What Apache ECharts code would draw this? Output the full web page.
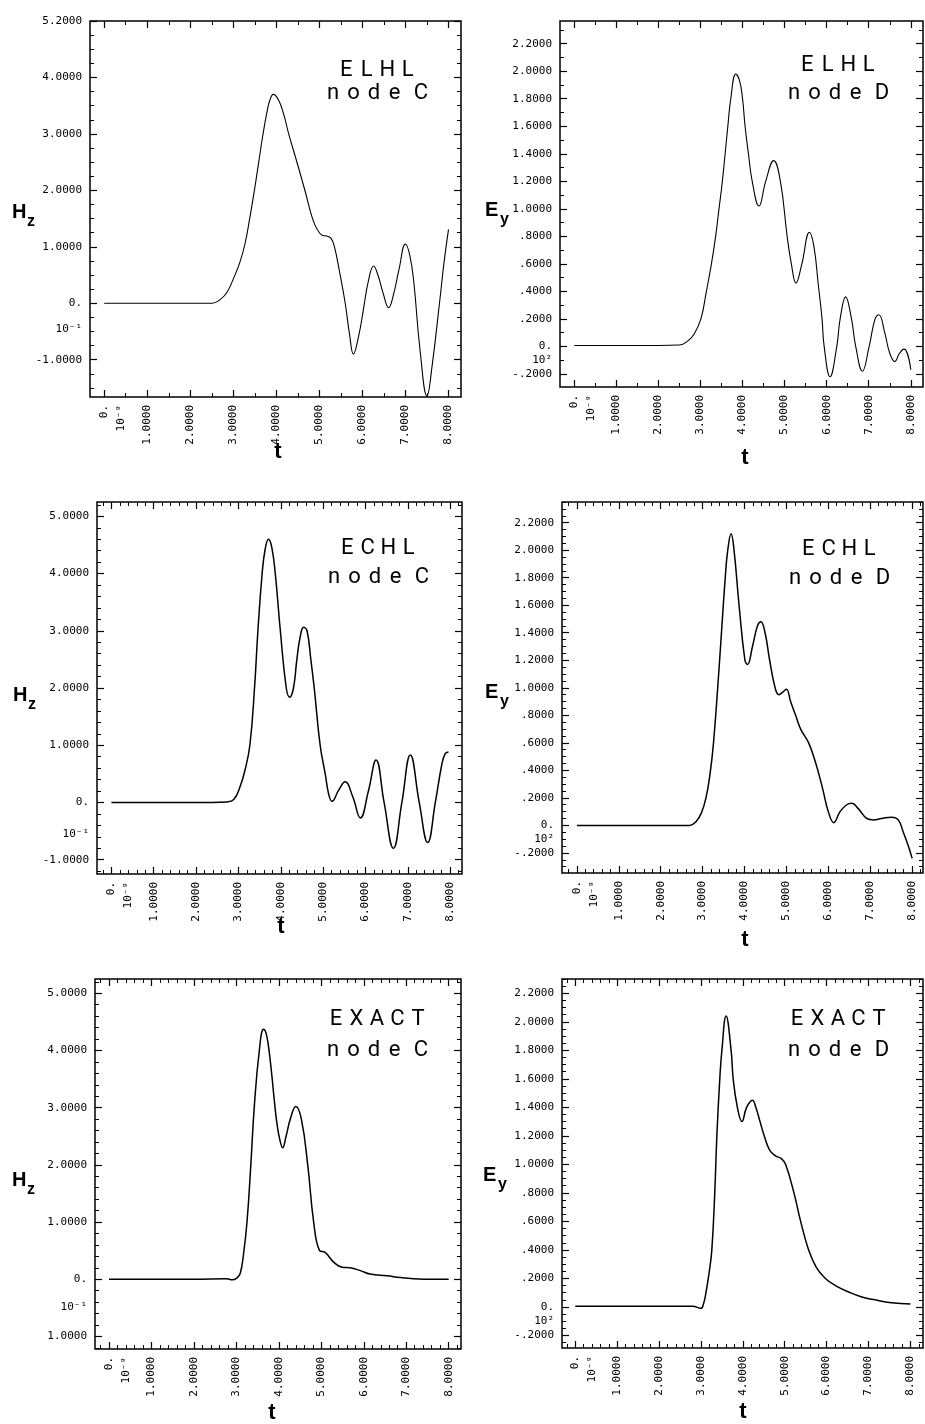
<!DOCTYPE html>
<html><head><meta charset="utf-8">
<script src="https://cdn.jsdelivr.net/npm/echarts@6/dist/echarts.min.js"></script>
<style>html,body{margin:0;padding:0;background:#fff}#c{width:925px;height:1424px}</style>
</head><body><div id="c"></div><script>
// ---------------- data ----------------
const elhlC_t = [0,1,2,2.5,2.7,2.85,3.01,3.15,3.27,3.38,3.49,3.59,3.68,3.78,3.85,3.93,4.05,4.17,4.28,4.47,4.67,4.80,4.90,5.0,5.08,5.17,5.27,5.35,5.47,5.60,5.70,5.79,5.92,6.02,6.14,6.26,6.36,6.48,6.61,6.72,6.85,7.0,7.10,7.19,7.34,7.50,7.62,7.79,7.90,8.0];
const elhlC_v = [0,0,0,0,0.07,0.19,0.45,0.72,1.05,1.5,2.0,2.5,2.95,3.38,3.60,3.70,3.60,3.35,3.02,2.52,1.98,1.6,1.38,1.25,1.20,1.19,1.15,1.0,0.55,0.0,-0.55,-0.90,-0.55,-0.12,0.40,0.66,0.50,0.18,-0.08,0.15,0.60,1.05,0.85,0.40,-0.84,-1.64,-1.10,0.0,0.75,1.31];

const elhlD_t = [0,1,2,2.5,2.7,2.85,3.01,3.14,3.26,3.36,3.44,3.52,3.65,3.72,3.84,3.93,4.0,4.06,4.14,4.23,4.39,4.55,4.74,4.90,5.06,5.16,5.27,5.41,5.59,5.70,5.80,5.89,5.94,6.08,6.24,6.32,6.45,6.59,6.69,6.85,7.01,7.15,7.24,7.38,7.50,7.62,7.73,7.84,8.0];
const elhlD_v = [0.007,0.007,0.007,0.01,0.04,0.09,0.2,0.4,0.6,0.8,1.0,1.2,1.6,1.8,1.98,1.93,1.8,1.6,1.4,1.2,1.02,1.2,1.35,1.2,0.8,0.6,0.46,0.6,0.83,0.72,0.45,0.2,0.0,-0.22,0.0,0.2,0.36,0.2,0.0,-0.18,0.0,0.2,0.23,0.1,-0.05,-0.11,-0.05,-0.02,-0.17];

const echlC_t = [0,1,2,2.73,2.89,3.04,3.15,3.27,3.38,3.46,3.56,3.63,3.71,3.79,3.87,3.99,4.13,4.21,4.30,4.38,4.46,4.54,4.62,4.71,4.79,4.93,5.05,5.13,5.21,5.37,5.52,5.70,5.88,6.07,6.25,6.44,6.66,6.86,7.06,7.27,7.47,7.65,7.80,7.88,7.96];
const echlC_v = [0,0,0,0.01,0.05,0.28,0.55,1.0,2.0,3.0,4.0,4.42,4.60,4.45,4.0,3.0,2.0,1.84,2.0,2.5,2.9,3.06,3.0,2.5,2.0,1.0,0.5,0.15,0.02,0.22,0.36,0.1,-0.27,0.2,0.74,0.0,-0.80,0.0,0.83,0.0,-0.70,0.0,0.65,0.85,0.88];

const echlD_t = [0,1,2,2.69,2.85,2.97,3.08,3.18,3.26,3.36,3.45,3.54,3.60,3.68,3.75,3.87,4.01,4.07,4.19,4.31,4.39,4.49,4.60,4.73,4.82,4.92,5.0,5.10,5.22,5.34,5.53,5.65,5.75,5.87,6.0,6.13,6.28,6.44,6.56,6.72,6.92,7.08,7.27,7.51,7.67,7.79,7.91,8.0];
const echlD_v = [0,0,0,0,0.03,0.09,0.2,0.38,0.6,1.0,1.4,1.8,2.0,2.12,2.0,1.6,1.2,1.17,1.3,1.45,1.48,1.4,1.2,1.0,0.95,0.97,0.99,0.9,0.8,0.7,0.6,0.5,0.4,0.26,0.1,0.02,0.1,0.15,0.16,0.12,0.05,0.04,0.05,0.06,0.04,-0.05,-0.15,-0.24];

const exactC_t = [0,1,2,2.77,2.9,3.01,3.09,3.17,3.25,3.34,3.42,3.54,3.64,3.70,3.76,3.83,3.89,3.95,4.02,4.09,4.17,4.27,4.40,4.53,4.68,4.82,4.96,5.09,5.29,5.49,5.68,5.92,6.15,6.55,6.86,7.17,7.65,8.0];
const exactC_v = [0,0,0,0.01,-0.01,0.02,0.1,0.45,1.0,2.0,3.0,4.0,4.37,4.3,4.05,3.6,3.15,2.75,2.45,2.30,2.5,2.8,3.02,2.8,2.0,1.0,0.5,0.47,0.3,0.21,0.2,0.15,0.09,0.06,0.03,0.01,0,0];

const exactD_t = [0,1,2,2.8,3.0,3.06,3.12,3.2,3.26,3.33,3.38,3.45,3.50,3.60,3.72,3.77,3.87,3.98,4.09,4.23,4.31,4.41,4.51,4.64,4.78,4.92,5.02,5.22,5.38,5.57,5.75,5.97,6.21,6.56,6.84,7.15,7.55,8.0];
const exactD_v = [0.005,0.005,0.005,0.005,-0.01,0.02,0.1,0.25,0.4,0.8,1.2,1.6,1.8,2.04,1.8,1.6,1.4,1.30,1.4,1.45,1.4,1.3,1.2,1.1,1.06,1.04,1.0,0.8,0.6,0.4,0.28,0.2,0.15,0.1,0.07,0.05,0.03,0.02];

// tick labels
const xTickValues = [0,1,2,3,4,5,6,7,8];
const xTickLabels = ['0.','1.0000','2.0000','3.0000','4.0000','5.0000','6.0000','7.0000','8.0000'];
const xExponent = [0.4,'10\u207B\u2079'];

const yC_values = [-1,0,1,2,3,4,5];
const yC1_labels = ['-1.0000','0.','1.0000','2.0000','3.0000','4.0000','5.2000'];
const yC2_labels = ['-1.0000','0.','1.0000','2.0000','3.0000','4.0000','5.0000'];
const yC3_labels = ['1.0000','0.','1.0000','2.0000','3.0000','4.0000','5.0000'];
const yD_values = [-0.2,0,0.2,0.4,0.6,0.8,1.0,1.2,1.4,1.6,1.8,2.0,2.2];
const yD_labels = ['-.2000','0.','.2000','.4000','.6000','.8000','1.0000','1.2000','1.4000','1.6000','1.8000','2.0000','2.2000'];
const yExpC = '10\u207B\u00B9';
const yExpD = '10\u00B2';

const titles = [['ELHL','node C'],['ELHL','node D'],['ECHL','node C'],['ECHL','node D'],['EXACT','node C'],['EXACT','node D']];

// ---------------- layout ----------------
const panels = [
  {t:elhlC_t, v:elhlC_v, grid:{left:90,top:21,width:371,height:376}, x:[-0.33,8.29], y:[-1.66,5.0], yv:yC_values, yl:yC1_labels, ye:[-0.45,yExpC], xm:0.5, ym:0.25, lw:1.1, tc:[377,70,93], nm:['H','z'], nmPos:[12,212], tPos:[278,452]},
  {t:elhlD_t, v:elhlD_v, grid:{left:560,top:21,width:363,height:366}, x:[-0.34,8.29], y:[-0.295,2.365], yv:yD_values, yl:yD_labels, ye:[-0.1,yExpD], xm:0.5, ym:0.1, lw:1.1, tc:[838,65,93], nm:['E','y'], nmPos:[485,210], tPos:[745,458]},
  {t:echlC_t, v:echlC_v, grid:{left:97,top:502,width:365,height:372}, x:[-0.34,8.28], y:[-1.25,5.25], yv:yC_values, yl:yC2_labels, ye:[-0.55,yExpC], xm:0.2, ym:0.2, lw:1.5, tc:[378,548,577], nm:['H','z'], nmPos:[13,695], tPos:[281,927]},
  {t:echlD_t, v:echlD_v, grid:{left:562,top:502,width:361,height:371}, x:[-0.356,8.26], y:[-0.346,2.35], yv:yD_values, yl:yD_labels, ye:[-0.1,yExpD], xm:0.2, ym:0.05, lw:1.5, tc:[839,549,578], nm:['E','y'], nmPos:[485,692], tPos:[745,940]},
  {t:exactC_t, v:exactC_v, grid:{left:95,top:979,width:366,height:370}, x:[-0.33,8.29], y:[-1.22,5.25], yv:yC_values, yl:yC3_labels, ye:[-0.48,yExpC], xm:0.2, ym:0.2, lw:1.5, tc:[377,1019,1050], nm:['H','z'], nmPos:[12,1180], tPos:[272,1413]},
  {t:exactD_t, v:exactD_v, grid:{left:562,top:979,width:361,height:369}, x:[-0.316,8.3], y:[-0.288,2.30], yv:yD_values, yl:yD_labels, ye:[-0.1,yExpD], xm:0.2, ym:0.05, lw:1.5, tc:[838,1019,1050], nm:['E','y'], nmPos:[483,1175], tPos:[743,1412]}
];

function steps(min, max, step) {
  const out = [];
  let k = Math.ceil(min / step - 1e-9);
  while (k * step <= max + 1e-9) { out.push(+(k * step).toFixed(5)); k++; }
  return out;
}
function lookup(vals, labels) {
  return function (val) {
    for (let i = 0; i < vals.length; i++) if (Math.abs(vals[i] - val) < 1e-6) return labels[i];
    return '';
  };
}

const MONO = '"DejaVu Sans Mono", monospace';
const BLK = '#000';
const grids = [], xAxes = [], yAxes = [], series = [], graphics = [];

panels.forEach((p, i) => {
  grids.push(Object.assign({show: true, borderColor: BLK, borderWidth: 1.5, containLabel: false}, p.grid));
  const xMinor = steps(p.x[0], p.x[1], p.xm);
  const yMinor = steps(p.y[0], p.y[1], p.ym);
  const xLabVals = xTickValues.concat([xExponent[0]]);
  const xLabTxt = xTickLabels.concat([xExponent[1]]);
  const yLabVals = p.yv.concat([p.ye[0]]);
  const yLabTxt = p.yl.concat([p.ye[1]]);
  const baseX = {gridIndex: i, type: 'value', min: p.x[0], max: p.x[1], splitLine: {show: false}, axisLine: {show: false, onZero: false}};
  const baseY = {gridIndex: i, type: 'value', min: p.y[0], max: p.y[1], splitLine: {show: false}, axisLine: {show: false, onZero: false}};
  xAxes.push(Object.assign({}, baseX, {position: 'bottom',
    axisTick: {show: true, inside: true, length: 7, customValues: xTickValues, lineStyle: {color: BLK, width: 1.2}},
    axisLabel: {show: true, customValues: xLabVals, formatter: lookup(xLabVals, xLabTxt), rotate: 90, margin: 8, color: BLK, fontFamily: MONO, fontSize: 11}}));
  xAxes.push(Object.assign({}, baseX, {position: 'bottom',
    axisTick: {show: true, inside: true, length: 4, customValues: xMinor, lineStyle: {color: BLK, width: 1}}, axisLabel: {show: false}}));
  xAxes.push(Object.assign({}, baseX, {position: 'top',
    axisTick: {show: true, inside: true, length: 7, customValues: xTickValues, lineStyle: {color: BLK, width: 1.2}}, axisLabel: {show: false}}));
  xAxes.push(Object.assign({}, baseX, {position: 'top',
    axisTick: {show: true, inside: true, length: 4, customValues: xMinor, lineStyle: {color: BLK, width: 1}}, axisLabel: {show: false}}));
  yAxes.push(Object.assign({}, baseY, {position: 'left',
    axisTick: {show: true, inside: true, length: 7, customValues: p.yv, lineStyle: {color: BLK, width: 1.2}},
    axisLabel: {show: true, customValues: yLabVals, formatter: lookup(yLabVals, yLabTxt), margin: 8, color: BLK, fontFamily: MONO, fontSize: 11}}));
  yAxes.push(Object.assign({}, baseY, {position: 'left',
    axisTick: {show: true, inside: true, length: 4, customValues: yMinor, lineStyle: {color: BLK, width: 1}}, axisLabel: {show: false}}));
  yAxes.push(Object.assign({}, baseY, {position: 'right',
    axisTick: {show: true, inside: true, length: 7, customValues: p.yv, lineStyle: {color: BLK, width: 1.2}}, axisLabel: {show: false}}));
  yAxes.push(Object.assign({}, baseY, {position: 'right',
    axisTick: {show: true, inside: true, length: 4, customValues: yMinor, lineStyle: {color: BLK, width: 1}}, axisLabel: {show: false}}));

  series.push({type: 'line', xAxisIndex: 4 * i, yAxisIndex: 4 * i, data: p.t.map((x, k) => [x, p.v[k]]),
    showSymbol: false, smooth: 0.45, clip: true, lineStyle: {color: BLK, width: p.lw}, silent: true});

  const tt = titles[i];
  const spaced = s => s.split('').map(ch => ch === ' ' ? '{s|\u00A0}' : '{c|' + ch + '}').join('');
  const richT = {c: {width: 20.5, align: 'center', fontSize: 22, fontFamily: 'Roboto', fontWeight: 'normal', color: BLK},
                 s: {width: 6, fontSize: 22, fontFamily: 'Roboto'}};
  graphics.push({type: 'text', x: p.tc[0], y: p.tc[1], style: {text: spaced(tt[0]), rich: richT, align: 'center', verticalAlign: 'middle'}});
  graphics.push({type: 'text', x: p.tc[0], y: p.tc[2], style: {text: spaced(tt[1]), rich: richT, align: 'center', verticalAlign: 'middle'}});
  graphics.push({type: 'text', x: p.nmPos[0], y: p.nmPos[1], style: {text: p.nm[0], font: 'bold 20px "Liberation Sans", Arial, sans-serif', fill: BLK, verticalAlign: 'middle'}});
  graphics.push({type: 'text', x: p.nmPos[0] + 15, y: p.nmPos[1] + 10, style: {text: p.nm[1], font: 'bold 16px "Liberation Sans", Arial, sans-serif', fill: BLK, verticalAlign: 'middle'}});
  graphics.push({type: 'text', x: p.tPos[0], y: p.tPos[1], style: {text: 't', font: 'bold 22px "Liberation Sans", Arial, sans-serif', fill: BLK, align: 'center', verticalAlign: 'middle'}});
});

const chart = echarts.init(document.getElementById('c'), null, {renderer: 'canvas'});
chart.setOption({
  animation: false,
  backgroundColor: '#fff',
  grid: grids,
  xAxis: xAxes,
  yAxis: yAxes,
  series: series,
  graphic: graphics
});
</script></body></html>
